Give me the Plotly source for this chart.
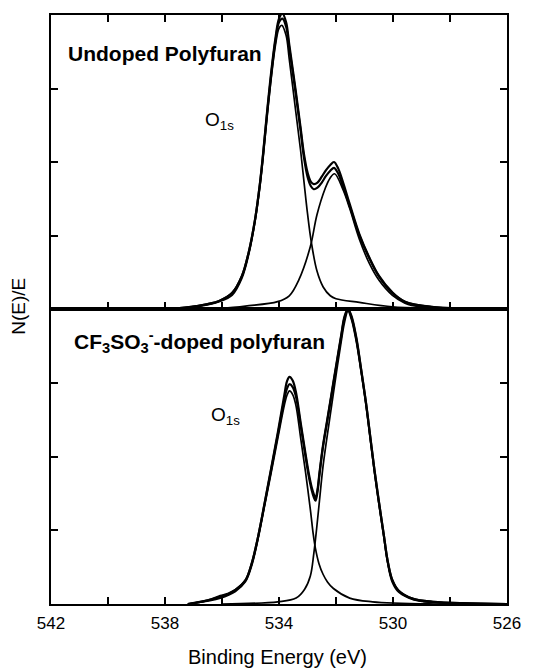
import plotly.graph_objects as go

# ---------------- data ----------------
x_tickvals = [542, 540, 538, 536, 534, 532, 530, 528, 526]
x_ticktext = ["542", "", "538", "", "534", "", "530", "", "526"]
y_tickvals = [1, 2, 3]

# Top panel: undoped polyfuran, O1s  (binding energy eV, N(E)/E in tick units)
top_c1_E = [537.9, 536.9, 536.1, 535.64, 535.3, 535.07, 534.84, 534.67, 534.56, 534.42, 534.27, 534.12,
            534.0, 533.9, 533.75, 533.64, 533.41, 533.24, 533.12, 533.0, 532.87, 532.67, 532.45,
            532.2, 532.0, 531.18, 530.03, 528.66, 526.0]
top_c1_v = [0.00, 0.03, 0.10, 0.19, 0.42, 0.73, 1.19, 1.66, 2.05, 2.60, 3.15, 3.60,
            3.82, 3.86, 3.72, 3.40, 2.68, 2.15, 1.72, 1.30, 0.92, 0.52, 0.30,
            0.18, 0.14, 0.09, 0.03, 0.01, 0.00]

top_c2_E = [536.2, 535.18, 534.05, 533.64, 533.30, 532.90, 532.67, 532.38, 532.21, 532.05,
            531.75, 531.52, 531.18, 530.83, 530.49, 530.03, 529.58, 529.35, 528.32, 526.0]
top_c2_v = [0.00, 0.04, 0.10, 0.18, 0.40, 0.85, 1.28, 1.64, 1.78, 1.84,
            1.62, 1.37, 0.95, 0.62, 0.39, 0.19, 0.08, 0.05, 0.01, 0.00]

top_env_E = [537.9, 536.9, 536.1, 535.64, 535.3, 535.07, 534.84, 534.67, 534.56, 534.42, 534.27, 534.12,
             534.0, 533.88, 533.75, 533.64, 533.41, 533.24, 533.12, 533.0, 532.88, 532.78, 532.65,
             532.50, 532.35, 532.20, 532.07, 531.92, 531.75, 531.52, 531.18, 530.83, 530.49, 530.03,
             529.58, 528.66, 526.0]
top_env_v = [0.00, 0.04, 0.11, 0.22, 0.45, 0.76, 1.22, 1.70, 2.09, 2.65, 3.20, 3.66,
             3.90, 3.95, 3.84, 3.55, 2.92, 2.42, 2.05, 1.80, 1.67, 1.63, 1.65,
             1.72, 1.81, 1.88, 1.92, 1.84, 1.66, 1.40, 1.00, 0.69, 0.44, 0.22,
             0.10, 0.03, 0.00]

top_dat_E = top_env_E
top_dat_v = [0.00, 0.04, 0.11, 0.22, 0.45, 0.76, 1.22, 1.71, 2.11, 2.68, 3.24, 3.70,
             3.95, 4.02, 3.90, 3.60, 2.96, 2.46, 2.10, 1.86, 1.73, 1.70, 1.72,
             1.80, 1.89, 1.96, 2.00, 1.91, 1.72, 1.43, 1.02, 0.70, 0.45, 0.23,
             0.10, 0.03, 0.00]

# Bottom panel: CF3SO3- doped polyfuran, O1s
bot_cA_E = [537.2, 536.06, 535.53, 535.18, 534.95, 534.73, 534.50, 534.27, 534.04, 533.81, 533.72,
            533.63, 533.52, 533.41, 533.24, 533.07, 532.89, 532.80, 532.72, 532.60, 532.45, 532.30,
            532.09, 531.52, 530.72, 528.5, 526.0]
bot_cA_v = [0.00, 0.08, 0.17, 0.30, 0.53, 0.89, 1.34, 1.79, 2.25, 2.70, 2.83,
            2.89, 2.84, 2.70, 2.25, 1.79, 1.25, 0.95, 0.75, 0.55, 0.40, 0.30,
            0.21, 0.08, 0.03, 0.00, 0.00]

bot_cB_E = [536.0, 534.04, 533.4, 533.1, 532.90, 532.78, 532.68, 532.58, 532.46, 532.32, 532.15, 531.98,
            531.82, 531.70, 531.58, 531.46, 531.29, 531.12, 530.95, 530.80, 530.65, 530.49, 530.32,
            530.19, 530.03, 529.8, 529.29, 528.6, 526.0]
bot_cB_v = [0.00, 0.03, 0.08, 0.20, 0.38, 0.68, 1.02, 1.40, 1.85, 2.25, 2.70, 3.15,
            3.55, 3.82, 3.97, 3.86, 3.56, 3.15, 2.70, 2.24, 1.78, 1.34, 0.90,
            0.56, 0.30, 0.16, 0.06, 0.02, 0.00]

bot_env_E = [537.2, 536.5, 536.06, 535.8, 535.53, 535.18, 534.95, 534.73, 534.50, 534.27, 534.04, 533.81,
             533.72, 533.63, 533.52, 533.41, 533.24, 533.07, 532.95, 532.85, 532.78, 532.72, 532.65,
             532.58, 532.46, 532.32, 532.15, 531.98, 531.82, 531.70, 531.58, 531.46, 531.29, 531.12,
             530.95, 530.80, 530.65, 530.49, 530.32, 530.19, 530.03, 529.8, 529.29, 528.6, 526.0]
bot_env_v = [0.00, 0.05, 0.10, 0.13, 0.19, 0.32, 0.56, 0.92, 1.37, 1.83, 2.30, 2.78,
             2.92, 2.98, 2.94, 2.82, 2.42, 2.00, 1.72, 1.54, 1.45, 1.40, 1.52,
             1.75, 2.12, 2.45, 2.85, 3.25, 3.62, 3.88, 3.99, 3.89, 3.60, 3.18,
             2.73, 2.27, 1.81, 1.37, 0.93, 0.59, 0.33, 0.18, 0.07, 0.03, 0.00]

bot_dat_E = bot_env_E
bot_dat_v = [0.00, 0.05, 0.11, 0.14, 0.19, 0.32, 0.56, 0.92, 1.38, 1.85, 2.33, 2.84,
             3.02, 3.08, 3.03, 2.88, 2.46, 2.04, 1.76, 1.58, 1.49, 1.43, 1.55,
             1.78, 2.14, 2.47, 2.87, 3.27, 3.64, 3.90, 4.00, 3.91, 3.62, 3.19,
             2.74, 2.28, 1.82, 1.38, 0.93, 0.59, 0.33, 0.18, 0.07, 0.03, 0.00]

# ---------------- figure ----------------
W, H = 533, 669
ML, MR, MT, MB = 51, 15, 15, 65
PW, PH = W - ML - MR, H - MT - MB
FONT = "Liberation Sans, Arial, Helvetica, sans-serif"
INK = "#000000"


def px(xp):
    return (xp - ML) / PW


def py(yp):
    return (H - MB - yp) / PH


fig = go.Figure()


def add_line(xs, ys, xa, ya, width):
    fig.add_trace(go.Scatter(x=xs, y=ys, xaxis=xa, yaxis=ya, mode="lines",
                             line=dict(color=INK, width=width, shape="spline", smoothing=1.0),
                             hoverinfo="skip", showlegend=False))


# top panel
add_line(top_c1_E, top_c1_v, "x2", "y2", 1.7)
add_line(top_c2_E, top_c2_v, "x2", "y2", 1.7)
add_line(top_env_E, top_env_v, "x2", "y2", 2.2)
add_line(top_dat_E, top_dat_v, "x2", "y2", 2.2)
# bottom panel
add_line(bot_cA_E, bot_cA_v, "x", "y", 1.7)
add_line(bot_cB_E, bot_cB_v, "x", "y", 1.7)
add_line(bot_env_E, bot_env_v, "x", "y", 2.2)
add_line(bot_dat_E, bot_dat_v, "x", "y", 2.2)

split = py(309)

xcommon = dict(range=[542, 526], tickvals=x_tickvals, ticktext=x_ticktext, ticks="inside",
               ticklen=7, tickwidth=2, tickcolor=INK, showline=True, linecolor=INK, linewidth=2,
               showgrid=False, zeroline=False,
               tickfont=dict(family=FONT, size=17, color=INK))
ycommon = dict(range=[0, 4], tickvals=y_tickvals, ticks="inside", ticklen=7, tickwidth=2,
               tickcolor=INK, showline=True, linecolor=INK, linewidth=2, mirror="ticks",
               showgrid=False, zeroline=False, showticklabels=False)

fig.update_layout(
    width=W, height=H,
    margin=dict(l=ML, r=MR, t=MT, b=MB, pad=0),
    paper_bgcolor="white", plot_bgcolor="white",
    showlegend=False,
    xaxis=dict(xcommon, anchor="y", domain=[0, 1], mirror=True, ticklabelstandoff=3),
    yaxis=dict(ycommon, anchor="x", domain=[0, split]),
    xaxis2=dict(xcommon, anchor="y2", domain=[0, 1], mirror="ticks", showticklabels=False,
                matches="x"),
    yaxis2=dict(ycommon, anchor="x2", domain=[split, 1]),
)

ann = [
    dict(text="<b>Undoped Polyfuran</b>", x=px(66), y=py(54),
         xanchor="left", yanchor="middle", font=dict(family=FONT, size=21, color=INK)),
    dict(text="<b>CF<sub>3</sub>SO<sub>3</sub><sup>-</sup>-doped polyfuran</b>", x=px(72), y=py(341),
         xanchor="left", yanchor="middle", font=dict(family=FONT, size=21, color=INK)),
    dict(text="O<sub>1s</sub>", x=px(207), y=py(121),
         xanchor="left", yanchor="middle", font=dict(family=FONT, size=19, color=INK)),
    dict(text="O<sub>1s</sub>", x=px(213), y=py(416),
         xanchor="left", yanchor="middle", font=dict(family=FONT, size=19, color=INK)),
    dict(text="N(E)/E", x=px(17), y=py(306), xanchor="center", yanchor="middle", textangle=-90,
         font=dict(family=FONT, size=19, color=INK)),
    dict(text="Binding Energy (eV)", x=px(283), y=py(657), xanchor="center", yanchor="middle",
         font=dict(family=FONT, size=20, color=INK)),
]
for a in ann:
    a.update(xref="paper", yref="paper", showarrow=False)
fig.update_layout(annotations=ann)

fig.write_html("out.html")
